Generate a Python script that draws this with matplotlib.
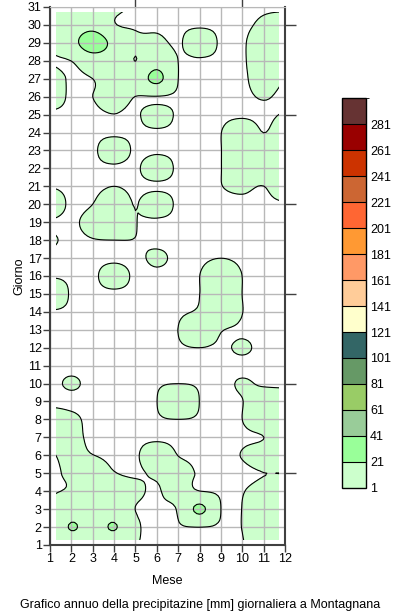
import numpy as np
import matplotlib
matplotlib.use('Agg')
import matplotlib.pyplot as plt
from matplotlib.colors import ListedColormap, BoundaryNorm
from matplotlib.patches import Rectangle

plt.rcParams['font.family'] = ['Liberation Sans', 'DejaVu Sans']

# precipitazione giornaliera [mm], un elenco per mese (giorni 1..31)
gen = [3, 3, 2, 0.5, 0, 0.5, 3, 3.5, 0, 0, 0, 0, 0, 0.3, 11, 0.3, 0, 1.6, 0.5, 5,
       0.8, 0, 0, 0, 0, 5, 5, 0.2, 2.5, 5, 5]
feb = [8, 22.5, 10, 2.2, 2.2, 2.5, 2.5, 2, 0, 1.5, 0, 0, 0, 0, 0, 0, 0, 0, 0, 0,
       0, 0, 0, 0, 0, 0, 0, 1.1, 14, 10, 8]
mar = [8, 12, 10, 8, 5, 1.1, 0, 0, 0, 0, 0, 0, 0, 0, 0, 0, 0, 0.8, 3.3, 1.0,
       0, 0, 0, 0, 0, 1.0, 1.0, 10, 32, 14, 8]
apr = [8, 22.5, 10, 6, 1.3, 0, 0, 0, 0, 0, 0, 0, 0, 0, 0, 4, 0, 1.0, 6, 5,
       1.0, 0, 5, 0, 0.9, 5, 8, 10, 15, 1.8, 3]
mag = [1.5, 3, 0.9, 2.5, 0.4, 0.3, 0, 0, 0, 0, 0, 0, 0, 0, 0, 0, 0, 0.9, 1.2, 0.8,
       0, 0, 0, 0, 0, 0.9, 8, 0.9, 3.3, 0, 0]
giu = [0, 0, 0.3, 0.3, 2, 5, 0, 0.5, 0.9, 0.5, 0, 0, 0, 0, 0, 0, 1.8, 0, 0, 5,
       0, 5, 0, 0, 5, 0.6, 26, 12, 3.3, 0, 0]
lug = [0, 0.5, 2, 5, 4, 0.9, 0, 0.95, 12, 0.95, 0, 0.5, 1.05, 0.3, 0, 0, 0, 0, 0, 0,
       0, 0, 0, 0, 0, 0, 1.05, 0.95, 0, 0, 0]
ago = [0, 1.1, 25, 1.1, 0.3, 0, 0, 0.5, 0.9, 0.5, 0, 1.0, 8, 2, 0.95, 0.95, 0, 0, 0, 0,
       0, 0, 0, 0, 0, 0, 0, 0, 7, 0, 0]
sett = [0, 0.3, 1.0, 0.2, 0, 0, 0, 0, 0, 0, 0, 0.3, 1.5, 8, 8, 8, 0.95, 0, 0, 0,
        0.9, 0.9, 0.9, 0.9, 0, 0, 0, 0, 0, 0, 0]
ott = [0.7, 1.1, 1.1, 0.8, 0, 1.2, 0.3, 1.0, 0.9, 1.4, 0, 1.6, 0.3, 1.1, 0.95, 0.95, 0, 0, 0, 0,
       2.2, 6, 6, 6, 0, 0, 0, 0.3, 0.3, 0, 0]
nov = [5, 6, 6, 3, 0.95, 4, 0.95, 5, 4, 0.5, 0, 0, 0, 0, 0, 0, 0, 0, 0, 0,
       0.95, 5, 5, 0.95, 0, 1.4, 4, 5, 5, 2, 0.5]
dic = [5, 5, 5, 5, 0.95, 5, 5, 5, 5, 0, 0, 0, 0, 0, 0, 0, 0, 0, 0, 0.5,
       5, 5, 5, 5, 1.33, 0, 1.25, 5, 5, 3, 0.5]

mesi = np.arange(1, 13)
giorni = np.arange(1, 32)
livelli = [1, 21, 41, 61, 81, 101, 121, 141, 161, 181, 201, 221, 241, 261, 281, 301]
colori = ['#CCFFCC', '#99FF99', '#99CC99', '#99CC66', '#669966', '#336666',
          '#FFFFCC', '#FFCC99', '#FF9966', '#FF9933', '#FF6633', '#CC6633',
          '#CC3300', '#990000', '#663333']


def bicubica(n, passo=8):
    # matrice di ricampionamento Catmull-Rom (solo per disegnare curve morbide)
    fine = np.linspace(0, n - 1, (n - 1) * passo + 1)
    M = np.zeros((len(fine), n))
    for i, p in enumerate(fine):
        j = min(int(np.floor(p)), n - 2)
        t = p - j
        for k in (-1, 0, 1, 2):
            d = abs(t - k)
            if d <= 1:
                w = 1.5 * d ** 3 - 2.5 * d ** 2 + 1
            elif d < 2:
                w = -0.5 * d ** 3 + 2.5 * d ** 2 - 4 * d + 2
            else:
                w = 0
            M[i, min(max(j + k, 0), n - 1)] += w
    return fine, M


Z = np.array([gen, feb, mar, apr, mag, giu, lug, ago, sett, ott, nov, dic]).T
fx, Mx = bicubica(len(mesi))
fy, My = bicubica(len(giorni))
Zf = My @ Z @ Mx.T
Xf = mesi[0] + fx
Yf = giorni[0] + fy

fig = plt.figure(figsize=(4, 6.13), dpi=100)
ax = fig.add_axes([0.125, 0.111, 0.5875, 0.8776])

cmap = ListedColormap(colori)
norm = BoundaryNorm(livelli, cmap.N)
cf = ax.contourf(Xf, Yf, Zf, levels=livelli, cmap=cmap, norm=norm, zorder=1)
cl = ax.contour(Xf, Yf, Zf, levels=livelli, colors='black', linewidths=0.8, zorder=3)
rect = Rectangle((1.3, 1.3), 10.4, 29.4, transform=ax.transData)
cf.set_clip_path(rect)
cl.set_clip_path(rect)

ax.set_xlim(1, 12)
ax.set_ylim(1, 31)
ax.set_xticks(mesi)
ax.set_yticks(giorni)
ax.grid(True, color='#b8b8b8', linewidth=1)
ax.tick_params(direction='out', length=5, width=1, color='#404040', labelsize=9, pad=1)
for s in ['left', 'bottom', 'right']:
    ax.spines[s].set_color('#404040')
    ax.spines[s].set_linewidth(1.5)
ax.spines['top'].set_color('#b8b8b8')

top = ax.secondary_xaxis('top')
top.set_xticks([5, 10])
top.set_xticklabels([])
top.tick_params(direction='out', length=7, width=1, color='#404040')
top.spines['top'].set_visible(False)
right = ax.secondary_yaxis('right')
right.set_yticks([5, 10, 15, 20, 25, 30])
right.set_yticklabels([])
right.tick_params(direction='out', length=8, width=1, color='#404040')
right.spines['right'].set_visible(False)

ax.set_xlabel('Mese', fontsize=9, labelpad=7)
ax.set_ylabel('Giorno', fontsize=9, labelpad=2)
fig.text(0.5, 0.004, 'Grafico annuo della precipitazine [mm] giornaliera a Montagnana',
         ha='center', va='bottom', fontsize=9)

cax = fig.add_axes([0.855, 0.204, 0.06, 0.636])
cb = fig.colorbar(cf, cax=cax, ticks=livelli[:-1], drawedges=True)
cb.outline.set_linewidth(1)
cb.dividers.set_linewidth(0.8)
cax.tick_params(length=0, labelsize=9, pad=3)

fig.savefig('out.png', dpi=100)
